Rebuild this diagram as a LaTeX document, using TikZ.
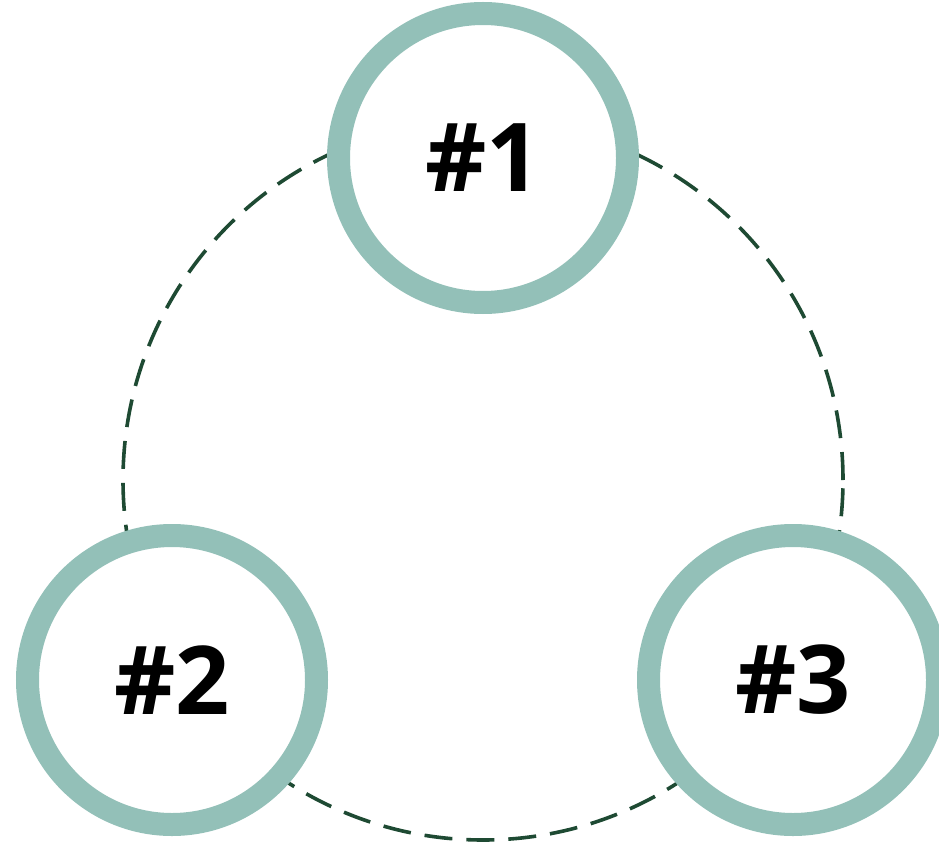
\documentclass[tikz,border=0pt]{standalone}
\usepackage{fontspec}
\setmainfont{Open Sans}
\definecolor{ringcol}{HTML}{93C0B8}
\definecolor{dashcol}{HTML}{1E4A33}
\begin{document}
\begin{tikzpicture}[x=1pt,y=-1pt,
  ring/.style={circle, draw=ringcol, line width=23pt, fill=white,
    minimum size=289pt, inner sep=0pt,
    font=\fontsize{95}{95}\selectfont\bfseries, text=black},
  dashring/.style={draw=dashcol, line width=3.6pt, dash pattern=on 28pt off 14pt}]
\useasboundingbox (0,0) rectangle (939,845);
\coordinate (c) at (483,480);
\draw[dashring] (c) circle[radius=360pt];
\node[ring] (n1) at (483,158) {\#1};
\node[ring] (n2) at (172,680) {\#2};
\node[ring] (n3) at (793,680) {\#3};
\end{tikzpicture}
\end{document}
